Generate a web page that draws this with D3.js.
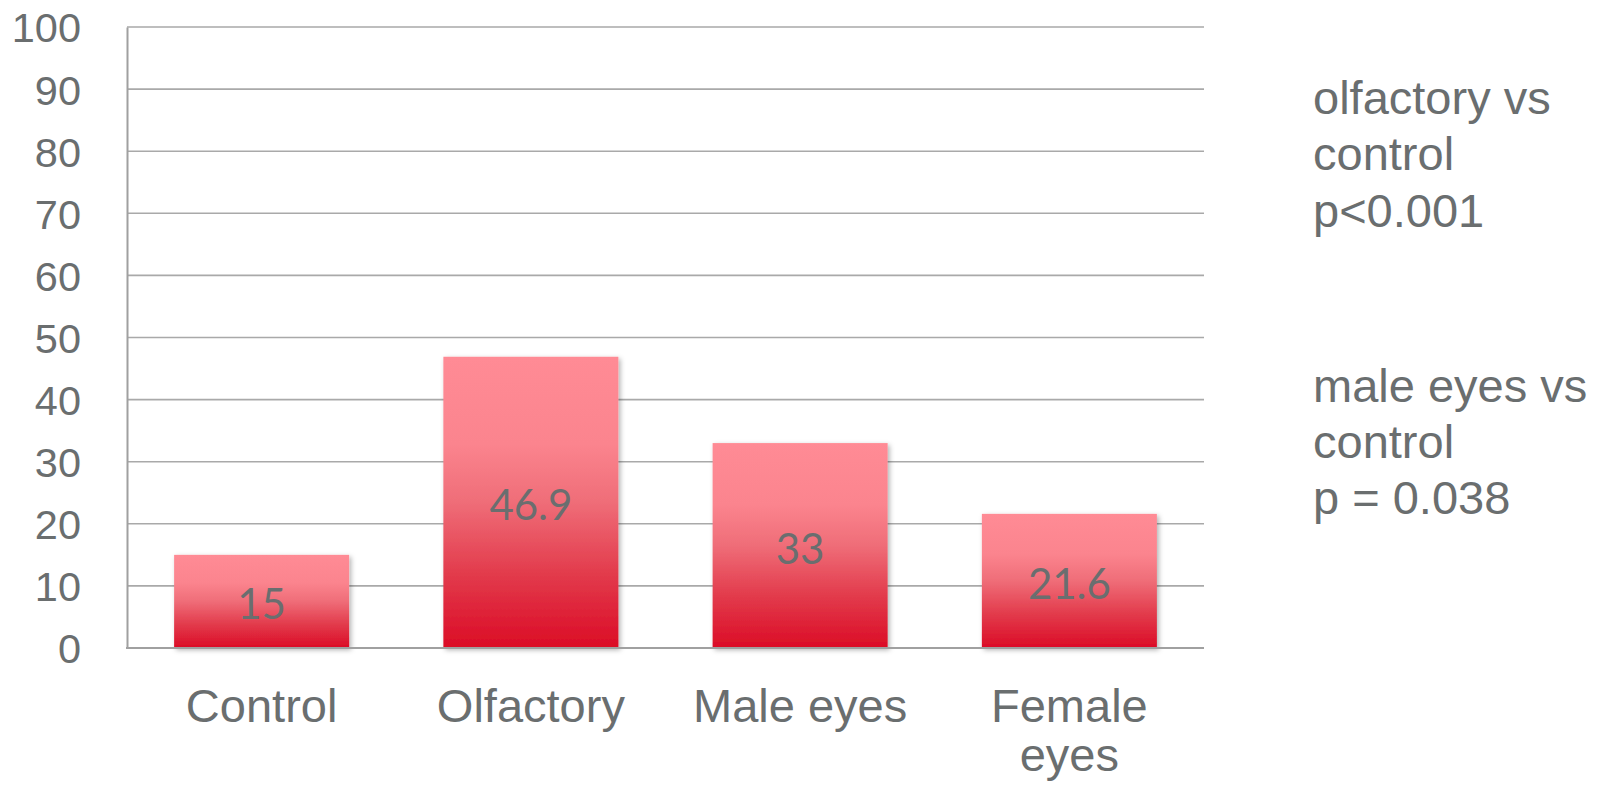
<!DOCTYPE html>
<html>
<head>
<meta charset="utf-8">
<script src="https://cdn.jsdelivr.net/npm/d3@7"></script>
<style>
  html, body { margin: 0; padding: 0; background: #ffffff; }
  svg { display: block; }
</style>
</head>
<body>
<svg id="chart" width="1601" height="787"></svg>
<script>
// Chart data
const categories = ["Control", "Olfactory", "Male eyes", "Female eyes"];
const categoryLines = [["Control"], ["Olfactory"], ["Male eyes"], ["Female", "eyes"]];
const values = [15, 46.9, 33, 21.6];
const valueLabels = ["15", "46.9", "33", "21.6"];
const yTicks = [0, 10, 20, 30, 40, 50, 60, 70, 80, 90, 100];
const noteOlfactory = ["olfactory vs", "control", "p<0.001"];
const noteMaleEyes = ["male eyes vs", "control", "p = 0.038"];

const textColor = "#6a6e6f";
const svg = d3.select("#chart");

const plot = { left: 127, right: 1204, top: 27, bottom: 648 };

const x = d3.scaleBand()
  .domain(categories)
  .range([plot.left, plot.right])
  .paddingInner(0.35)
  .paddingOuter(0.175);

const y = d3.scaleLinear()
  .domain([0, 100])
  .range([plot.bottom, plot.top]);

// Definitions: bar gradient and soft shadow
const defs = svg.append("defs");
const grad = defs.append("linearGradient")
  .attr("id", "barGradient")
  .attr("x1", 0).attr("y1", 0).attr("x2", 0).attr("y2", 1);
[
  [0, "#ff8b95"], [0.3, "#fb848e"], [0.5, "#ef6d78"], [0.75, "#e23a4b"], [1, "#db0c26"]
].forEach(([o, c]) => grad.append("stop").attr("offset", o).attr("stop-color", c));

const shadow = defs.append("filter")
  .attr("id", "barShadow")
  .attr("x", "-10%").attr("y", "-10%").attr("width", "130%").attr("height", "130%");
shadow.append("feDropShadow")
  .attr("dx", 2).attr("dy", 2).attr("stdDeviation", 2.5)
  .attr("flood-color", "#000").attr("flood-opacity", 0.3);

// Horizontal gridlines
svg.append("g")
  .selectAll("line")
  .data(yTicks.filter(d => d > 0))
  .join("line")
  .attr("x1", plot.left).attr("x2", plot.right)
  .attr("y1", d => y(d)).attr("y2", d => y(d))
  .attr("stroke", "#a9a9a9")
  .attr("stroke-width", 1.6);

// Y axis
const yAxis = svg.append("g")
  .attr("transform", `translate(${plot.left},0)`)
  .call(d3.axisLeft(y).tickValues(yTicks).tickSize(0).tickPadding(46));
yAxis.select(".domain").attr("stroke", "#a0a0a0").attr("stroke-width", 2);
yAxis.selectAll("text")
  .attr("fill", textColor)
  .attr("font-family", "'Liberation Sans', Arial, sans-serif")
  .attr("font-size", 41.5)
  .attr("dy", "0.36em");

// Bars
svg.append("g")
  .selectAll("rect")
  .data(values)
  .join("rect")
  .attr("x", (d, i) => x(categories[i]))
  .attr("width", x.bandwidth())
  .attr("y", d => y(d))
  .attr("height", d => y(0) - y(d))
  .attr("fill", "url(#barGradient)")
  .attr("filter", "url(#barShadow)");

// X axis baseline
svg.append("line")
  .attr("x1", plot.left - 1).attr("x2", plot.right)
  .attr("y1", y(0)).attr("y2", y(0))
  .attr("stroke", "#a0a0a0")
  .attr("stroke-width", 2);

// Value labels centred in each bar
svg.append("g")
  .selectAll("text")
  .data(values)
  .join("text")
  .attr("x", (d, i) => x(categories[i]) + x.bandwidth() / 2)
  .attr("y", d => (y(d) + y(0)) / 2)
  .attr("dy", "0.43em")
  .attr("text-anchor", "middle")
  .attr("font-family", "Lato, 'Open Sans', sans-serif")
  .attr("font-size", 42)
  .attr("fill", textColor)
  .text((d, i) => valueLabels[i]);

// Category labels
const catG = svg.append("g")
  .attr("font-family", "'Liberation Sans', Arial, sans-serif")
  .attr("font-size", 47)
  .attr("fill", textColor)
  .attr("text-anchor", "middle");
categories.forEach((c, i) => {
  const t = catG.append("text")
    .attr("x", x(c) + x.bandwidth() / 2)
    .attr("y", 722);
  categoryLines[i].forEach((line, j) => {
    t.append("tspan")
      .attr("x", x(c) + x.bandwidth() / 2)
      .attr("dy", j === 0 ? 0 : 49)
      .text(line);
  });
});

// Significance notes
function note(lines, baseline, spacing) {
  const t = svg.append("text")
    .attr("x", 1313)
    .attr("y", baseline)
    .attr("font-family", "'Liberation Sans', Arial, sans-serif")
    .attr("font-size", 47)
    .attr("fill", textColor);
  lines.forEach((line, j) => {
    t.append("tspan")
      .attr("x", 1313)
      .attr("dy", j === 0 ? 0 : spacing)
      .text(line);
  });
}
note(noteOlfactory, 113.5, 56.5);
note(noteMaleEyes, 402, 56);
</script>
</body>
</html>
